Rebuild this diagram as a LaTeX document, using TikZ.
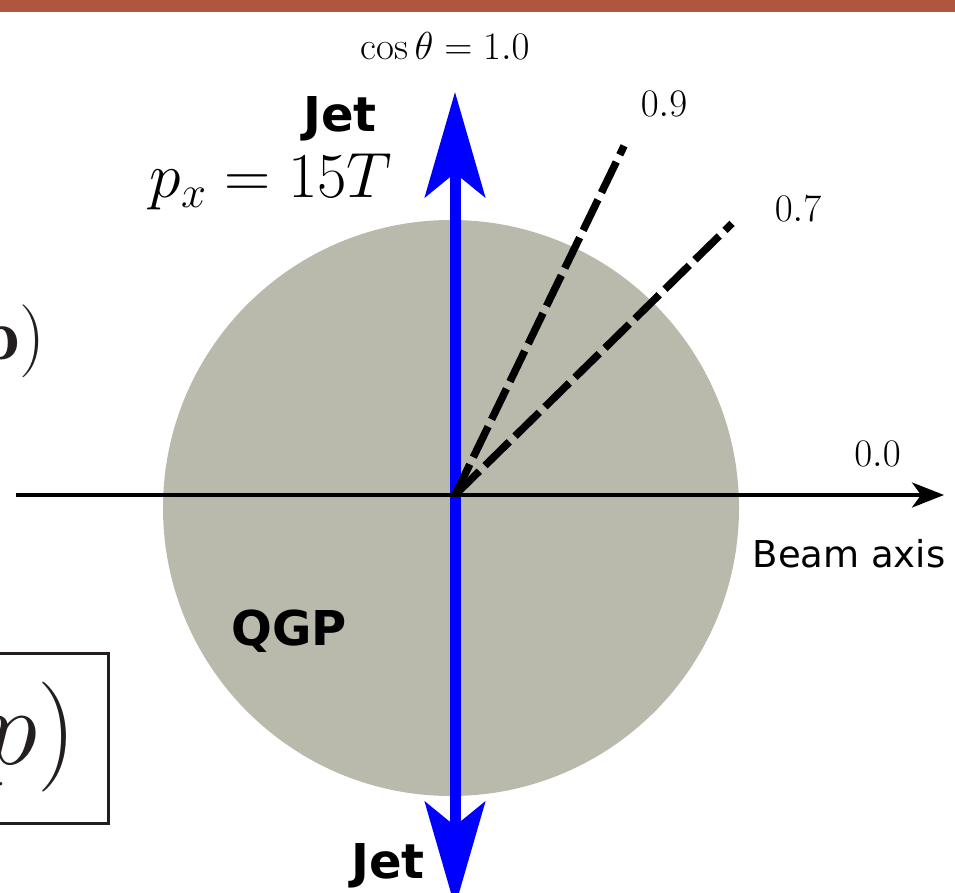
\documentclass[tikz,border=0pt]{standalone}
\usepackage{fix-cm}
\usepackage{fontspec}
\newfontfamily\djv{DejaVu Sans}
\usetikzlibrary{arrows.meta}
\definecolor{topbar}{RGB}{174,86,62}
\definecolor{qgp}{RGB}{185,186,172}
\definecolor{boxline}{RGB}{35,31,32}
\tikzset{
  lbl/.style={inner sep=0pt, anchor=base},
  numlbl/.style={lbl, font=\fontsize{39}{40}\selectfont},
  sanslbl/.style={lbl, font=\djv\fontsize{37}{40}\selectfont},
  boldlbl/.style={lbl, font=\djv\bfseries\fontsize{48}{50}\selectfont},
  jetarrow/.style={draw=blue, line width=11pt,
    {Stealth[length=105pt,width=60pt,inset=24pt]}-{Stealth[length=105pt,width=60pt,inset=24pt]}},
  beamarrow/.style={draw=black, line width=4pt,
    -{Stealth[length=32pt,width=25pt,inset=9pt]}},
  coneline/.style={draw=black, line width=7.5pt, dash pattern=on 34pt off 8pt},
  clipped/.style={inner sep=0pt, anchor=base east, text=boxline}
}
\begin{document}
\begin{tikzpicture}[x=1pt,y=1pt]
  \useasboundingbox (0,0) rectangle (955,892);
  \clip (0,0) rectangle (955,892);
  % top bar
  \fill[topbar] (0,879.5) rectangle (955,892);
  % QGP fireball
  \fill[qgp] (451,384) circle[radius=288];
  % coordinates
  \coordinate (O) at (455,397);
  \coordinate (jetTop) at (455,800);
  \coordinate (jetBot) at (455,-15);
  \coordinate (axL) at (16,397);
  \coordinate (axR) at (944,397);
  % jets
  \draw[jetarrow] (jetBot) -- (jetTop);
  % cone lines
  \path (O) ++(64.16:388) coordinate (e09);
  \path (O) ++(44.43:388) coordinate (e07);
  \draw[coneline] (O) -- (e09);
  \draw[coneline] (O) -- (e07);
  % beam axis
  \draw[beamarrow] (axL) -- (axR);
  % labels
  \node[numlbl] (cos1) at (445,832) {$\cos\theta = 1.0$};
  \node[numlbl] (l09) at (664,775) {$0.9$};
  \node[numlbl] (l07) at (798,670) {$0.7$};
  \node[numlbl] (l00) at (877.5,425) {$0.0$};
  \node[sanslbl] (beam) at (849,324) {Beam axis};
  \node[boldlbl] (jetT) at (340,760) {Jet};
  \node[boldlbl] (jetB) at (388,14) {Jet};
  \node[boldlbl] (qgpl) at (289,247) {QGP};
  \node[lbl, font=\fontsize{64}{66}\selectfont] (px) at (271,694) {$p_x = 15T$};
  % clipped slide fragments on the left
  \node[clipped, font=\fontsize{73}{75}\selectfont] (frag1) at (46,532) {$\mathbf{p})$};
  \node[clipped, font=\fontsize{110}{112}\selectfont] (frag2) at (77,127.5) {$p)$};
  \draw[boxline, line width=3pt] (-20,69) rectangle (108,239);
\end{tikzpicture}
\end{document}
